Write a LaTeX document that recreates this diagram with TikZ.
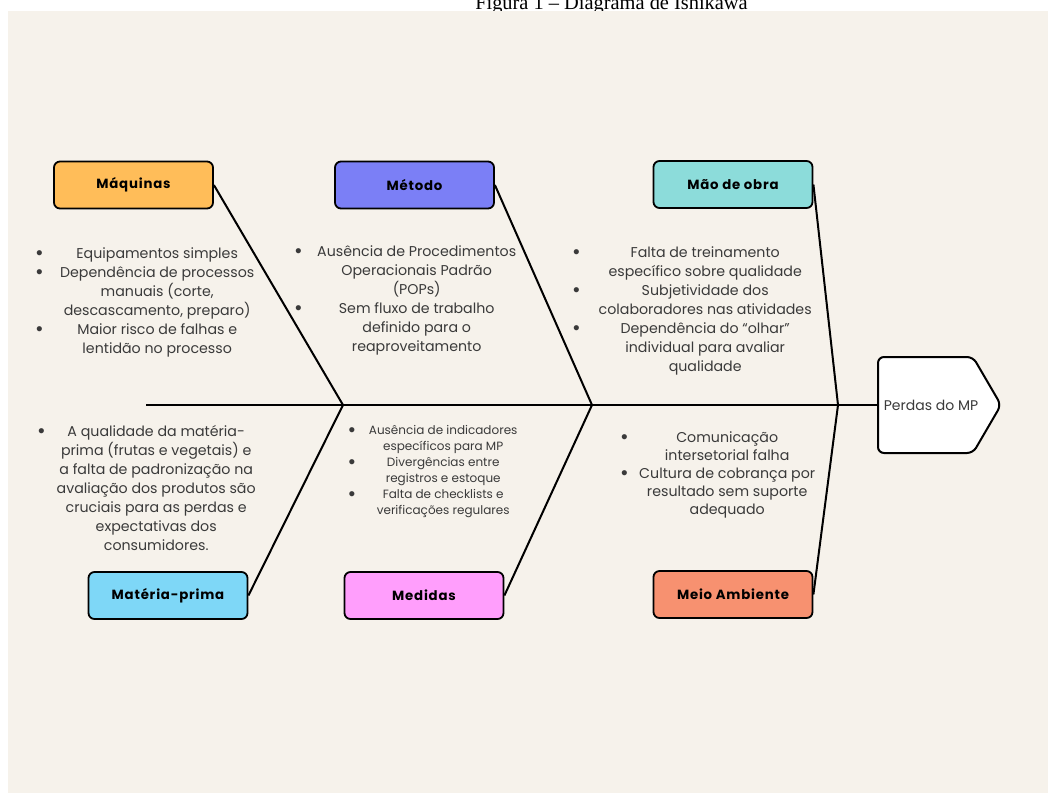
\documentclass[tikz,border=0pt]{standalone}
\usepackage{fontspec}
\setmainfont{Poppins}
\newfontfamily\titlefont{Liberation Serif}
\newfontfamily\labelfont[LetterSpace=6]{Poppins}
\newfontfamily\bulletfont{Liberation Sans}
\usepackage{xcolor}
\usepackage{tikz}
\usetikzlibrary{positioning}
\newlength{\notew}
\newcommand{\ishitem}[1]{{\bulletfont\fontsize{19}{19}\selectfont\raisebox{-1.5pt}{•}} & \parbox[t]{\notew}{\centering #1\strut}\\}

\begin{document}
\begin{tikzpicture}[x=1pt,y=-1pt]
    \definecolor{my_beige}{HTML}{F6F2EB}
    \definecolor{my_gray}{HTML}{3A3A3A}
    \definecolor{my_orange}{HTML}{FFBD59}
    \definecolor{my_blue}{HTML}{7B7FF6}
    \definecolor{my_teal}{HTML}{8CDCDA}
    \definecolor{my_sky}{HTML}{7ED7F7}
    \definecolor{my_pink}{HTML}{FF9EFC}
    \definecolor{my_salmon}{HTML}{F79170}
    \tikzstyle{category}=[draw, rounded corners=6pt, line width=1.8pt,
                          minimum width=159pt, minimum height=47pt, inner sep=0pt,
                          font=\labelfont\fontsize{13.3}{15}\selectfont\bfseries]
    \tikzstyle{notes}=[inner sep=0pt, anchor=base west, text=my_gray,
                       font=\fontsize{14.2}{19}\selectfont]
    \tikzstyle{bone}=[line width=2pt]

    \useasboundingbox (0,0) rectangle (1048,793);
    \node[font=\titlefont\fontsize{20.4}{22}\selectfont, anchor=base] (title) at (611.5,9.5) {Figura 1 – Diagrama de Ishikawa};
    \fill[my_beige] (8,11) rectangle (1048,793);

    \node[category, fill=my_orange] (maq) at (133.5,185) {Máquinas};
    \node[category, fill=my_blue] (met) at (414.5,185) {Método};
    \node[category, fill=my_teal] (mao) at (733,184.5) {Mão de obra};
    \node[category, fill=my_sky] (mat) at (168,595.5) {Matéria-prima};
    \node[category, fill=my_pink] (med) at (424,595.5) {Medidas};
    \node[category, fill=my_salmon] (mei) at (733,594.5) {Meio Ambiente};

    \coordinate (tail) at (146,405);
    \coordinate (j1) at (343,405);
    \coordinate (j2) at (592,405);
    \coordinate (j3) at (838,405);
    \coordinate (head) at (878,405);

    \draw[bone] (tail) -- (head);
    \draw[bone] (maq.east) -- (j1) -- (mat.east);
    \draw[bone] (met.east) -- (j2) -- (med.east);
    \draw[bone] (mao.east) -- (j3) -- (mei.east);

    \draw[bone, fill=white, rounded corners=6pt] (878,357) -- (973,357) -- (1001,405) -- (973,453) -- (878,453) -- cycle;
    \node[text=my_gray, font=\fontsize{14}{16}\selectfont] (perdas) at (931,405) {Perdas do MP};

    \node[notes] (maqnotes) at (36,258) {\setlength{\notew}{200pt}%
        \begin{tabular}[t]{@{}p{21pt}@{}l@{}}
        \ishitem{Equipamentos simples}
        \ishitem{Dependência de processos\\manuais (corte,\\descascamento, preparo)}
        \ishitem{Maior risco de falhas e\\lentidão no processo}
        \end{tabular}};
    \node[notes] (metnotes) at (295,256) {\setlength{\notew}{210pt}%
        \begin{tabular}[t]{@{}p{16.5pt}@{}l@{}}
        \ishitem{Ausência de Procedimentos\\Operacionais Padrão\\(POPs)}
        \ishitem{Sem fluxo de trabalho\\definido para o\\reaproveitamento}
        \end{tabular}};
    \node[notes] (maonotes) at (573,257) {\setlength{\notew}{220pt}%
        \begin{tabular}[t]{@{}p{22pt}@{}l@{}}
        \ishitem{Falta de treinamento\\específico sobre qualidade}
        \ishitem{Subjetividade dos\\colaboradores nas atividades}
        \ishitem{Dependência do “olhar”\\individual para avaliar\\qualidade}
        \end{tabular}};
    \node[notes] (matnotes) at (38,436) {\setlength{\notew}{204pt}%
        \begin{tabular}[t]{@{}p{16pt}@{}l@{}}
        \ishitem{A qualidade da matéria-\\prima (frutas e vegetais) e\\a falta de padronização na\\avaliação dos produtos são\\cruciais para as perdas e\\expectativas dos\\consumidores.}
        \end{tabular}};
    \node[notes, font=\fontsize{12}{16}\selectfont] (mednotes) at (348.5,434.5) {\setlength{\notew}{158pt}%
        \begin{tabular}[t]{@{}p{15.5pt}@{}l@{}}
        \ishitem{Ausência de indicadores\\específicos para MP}
        \ishitem{Divergências entre\\registros e estoque}
        \ishitem{Falta de checklists e\\verificações regulares}
        \end{tabular}};
    \node[notes, font=\fontsize{14.2}{18}\selectfont] (meinotes) at (621,442) {\setlength{\notew}{180pt}%
        \begin{tabular}[t]{@{}p{16pt}@{}l@{}}
        \ishitem{Comunicação\\intersetorial falha}
        \ishitem{Cultura de cobrança por\\resultado sem suporte\\adequado}
        \end{tabular}};
\end{tikzpicture}
\end{document}
